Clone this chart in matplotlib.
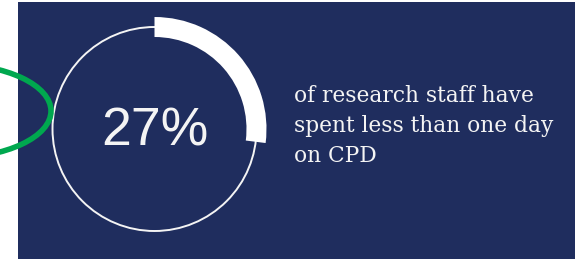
import matplotlib
matplotlib.use("Agg")
import matplotlib.pyplot as plt
from matplotlib.patches import Rectangle, Circle, Wedge, Ellipse

# data
share = 27  # percent of research staff
label = f"{share}%"
caption_lines = ["of research staff have", "spent less than one day", "on CPD"]

navy = "#1f2d5e"
green = "#00a84f"
white = "#f4f4f4"

W, H = 577, 260
fig = plt.figure(figsize=(W / 100, H / 100), dpi=100)
ax = fig.add_axes([0, 0, 1, 1])
ax.set_xlim(0, W)
ax.set_ylim(0, H)
ax.set_aspect("equal")
ax.axis("off")

# background panel
ax.add_patch(Rectangle((18, 1), 557, 257, facecolor=navy, edgecolor="none"))

# ring + progress arc
cx, cy = 154.5, 131
ax.add_patch(Circle((cx, cy), 102, fill=False, edgecolor=white, lw=1.4))
ax.add_patch(Wedge((cx, cy), 112, 90 - 360 * share / 100, 90, width=20,
                   facecolor="white", edgecolor="none"))

ax.text(cx, 115, label, color=white, fontsize=38.5, family="Liberation Sans",
        ha="center", va="baseline")

# caption
for i, line in enumerate(caption_lines):
    ax.text(294, 158 - 30 * i, line, color=white, fontsize=15.7,
            family="DejaVu Serif", ha="left", va="baseline")

# green annotation loop
ax.add_patch(Ellipse((-49, 149), 200, 94, fill=False, edgecolor=green, lw=4))

fig.savefig("out.png", dpi=100, facecolor="white")
